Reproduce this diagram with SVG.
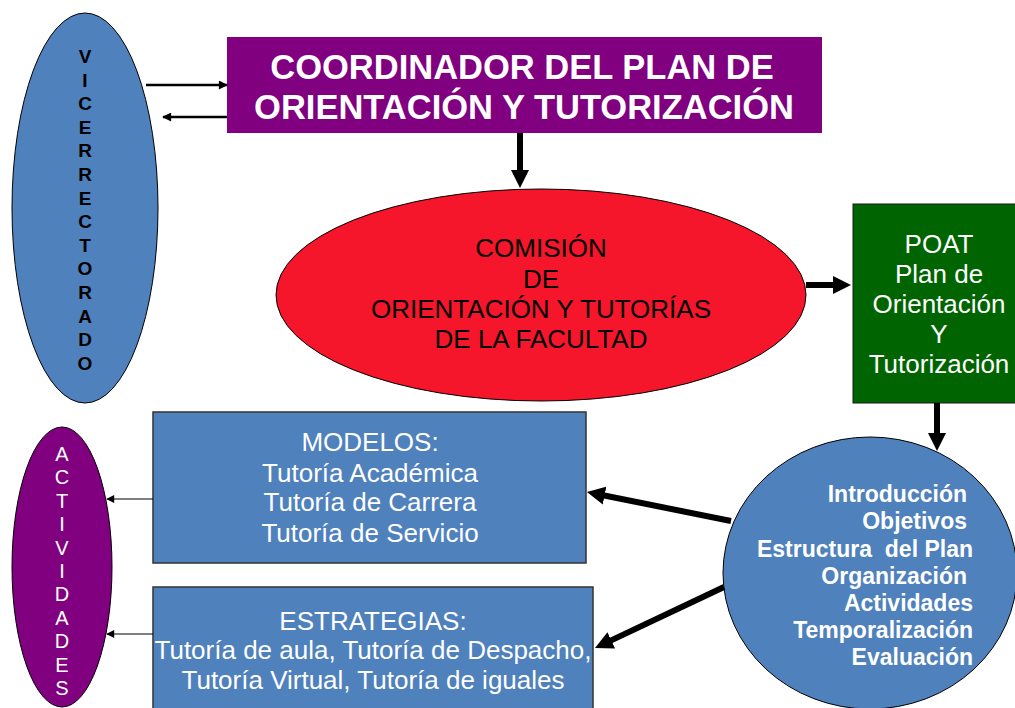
<svg xmlns="http://www.w3.org/2000/svg" width="1015" height="708" viewBox="0 0 1015 708">
<style>
text{font-family:"Liberation Sans",Arial,sans-serif}
.vice{font-size:19px;font-weight:bold;fill:#000;text-anchor:middle}
.act{font-size:20px;fill:#fff;text-anchor:middle}
.title{font-size:34.5px;font-weight:bold;fill:#fff;text-anchor:middle}
.com{font-size:26px;fill:#000;text-anchor:middle}
.wt{font-size:26px;fill:#fff;text-anchor:middle}
.plan{font-size:23px;font-weight:bold;fill:#fff;text-anchor:end}
.thick{stroke:#000;stroke-width:6;fill:none}
.thin{stroke:#000;stroke-width:2.5;fill:none}
.fine{stroke:#000;stroke-width:1.2;fill:none}
</style>
<defs>
<marker id="ah" viewBox="0 0 10 10" markerUnits="userSpaceOnUse" markerWidth="18" markerHeight="19" refX="3" refY="5" orient="auto">
<path d="M0,0 L10,5 L0,10 z" fill="#000"/>
</marker>
<marker id="as" viewBox="0 0 10 10" markerUnits="userSpaceOnUse" markerWidth="11" markerHeight="9" refX="9" refY="5" orient="auto">
<path d="M0,0 L10,5 L0,10 z" fill="#000"/>
</marker>
<marker id="ax" viewBox="0 0 10 10" markerUnits="userSpaceOnUse" markerWidth="9" markerHeight="8" refX="9" refY="5" orient="auto">
<path d="M0,0 L10,5 L0,10 z" fill="#000"/>
</marker>
</defs>
<rect width="1015" height="708" fill="#fff"/>

<g id="vicerrectorado">
<ellipse cx="85" cy="208" rx="73" ry="195" fill="#4F81BD" stroke="#000" stroke-width="1"/>
<text class="vice" x="85" y="63">V</text>
<text class="vice" x="85" y="86.6">I</text>
<text class="vice" x="85" y="110.2">C</text>
<text class="vice" x="85" y="133.8">E</text>
<text class="vice" x="85" y="157.4">R</text>
<text class="vice" x="85" y="181">R</text>
<text class="vice" x="85" y="204.6">E</text>
<text class="vice" x="85" y="228.2">C</text>
<text class="vice" x="85" y="251.8">T</text>
<text class="vice" x="85" y="275.4">O</text>
<text class="vice" x="85" y="299">R</text>
<text class="vice" x="85" y="322.6">A</text>
<text class="vice" x="85" y="346.2">D</text>
<text class="vice" x="85" y="369.8">O</text>
</g>

<g id="coordinador">
<rect x="227" y="37" width="595" height="96" fill="#800080"/>
<text class="title" x="522" y="79">COORDINADOR DEL PLAN DE</text>
<text class="title" x="524" y="119">ORIENTACIÓN Y TUTORIZACIÓN</text>
</g>

<g id="comision">
<ellipse cx="541" cy="295" rx="265" ry="106" fill="#F5162B" stroke="#000" stroke-width="1"/>
<text class="com" x="541" y="257">COMISIÓN</text>
<text class="com" x="541" y="288">DE</text>
<text class="com" x="541" y="318">ORIENTACIÓN Y TUTORÍAS</text>
<text class="com" x="541" y="348">DE LA FACULTAD</text>
</g>

<g id="poat">
<rect x="853" y="204" width="165" height="199" fill="#006400" stroke="#1a1a1a" stroke-width="1"/>
<text class="wt" x="939" y="253">POAT</text>
<text class="wt" x="939" y="283">Plan de</text>
<text class="wt" x="939" y="313">Orientación</text>
<text class="wt" x="939" y="343">Y</text>
<text class="wt" x="939" y="373">Tutorización</text>
</g>

<g id="contenidos">
<ellipse cx="870" cy="573" rx="147" ry="136" fill="#4F81BD" stroke="#000" stroke-width="1"/>
<text class="plan" x="967" y="502">Introducción</text>
<text class="plan" x="967" y="529">Objetivos</text>
<text class="plan" x="973" y="557" style="white-space:pre" xml:space="preserve">Estructura  del Plan</text>
<text class="plan" x="967" y="584">Organización</text>
<text class="plan" x="973" y="611">Actividades</text>
<text class="plan" x="973" y="638">Temporalización</text>
<text class="plan" x="973" y="665">Evaluación</text>
</g>

<g id="modelos">
<rect x="153" y="412" width="433" height="151" fill="#4F81BD" stroke="#333" stroke-width="1.5"/>
<text class="wt" x="370" y="451">MODELOS:</text>
<text class="wt" x="370" y="482">Tutoría Académica</text>
<text class="wt" x="370" y="511">Tutoría de Carrera</text>
<text class="wt" x="370" y="542">Tutoría de Servicio</text>
</g>

<g id="estrategias">
<rect x="153" y="587" width="440" height="130" fill="#4F81BD" stroke="#333" stroke-width="1.5"/>
<text class="wt" x="373" y="630">ESTRATEGIAS:</text>
<text class="wt" x="373" y="659">Tutoría de aula, Tutoría de Despacho,</text>
<text class="wt" x="373" y="689">Tutoría Virtual, Tutoría de iguales</text>
</g>

<g id="actividades">
<ellipse cx="62" cy="567" rx="50" ry="140" fill="#800080" stroke="#000" stroke-width="1"/>
<text class="act" x="62" y="461">A</text>
<text class="act" x="62" y="484.4">C</text>
<text class="act" x="62" y="507.8">T</text>
<text class="act" x="62" y="531.2">I</text>
<text class="act" x="62" y="554.6">V</text>
<text class="act" x="62" y="578">I</text>
<text class="act" x="62" y="601.4">D</text>
<text class="act" x="62" y="624.8">A</text>
<text class="act" x="62" y="648.2">D</text>
<text class="act" x="62" y="671.6">E</text>
<text class="act" x="62" y="695">S</text>
</g>

<g id="connectors">
<line class="thin" x1="146" y1="85" x2="227" y2="85" marker-end="url(#as)"/>
<line class="thin" x1="227" y1="117" x2="163" y2="117" marker-end="url(#as)"/>
<line class="thick" x1="520" y1="133" x2="520" y2="175.4" marker-end="url(#ah)"/>
<line class="thick" x1="806" y1="285" x2="838.4" y2="285" marker-end="url(#ah)"/>
<line class="thick" x1="937" y1="403" x2="937" y2="438.4" marker-end="url(#ah)"/>
<line class="thick" x1="731" y1="521" x2="599.3" y2="494.5" marker-end="url(#ah)"/>
<line class="thick" x1="724" y1="587" x2="606.4" y2="642.6" marker-end="url(#ah)"/>
<line class="fine" x1="153" y1="499" x2="107" y2="499" marker-end="url(#ax)"/>
<line class="fine" x1="153" y1="634" x2="107" y2="634" marker-end="url(#ax)"/>
</g>
</svg>
